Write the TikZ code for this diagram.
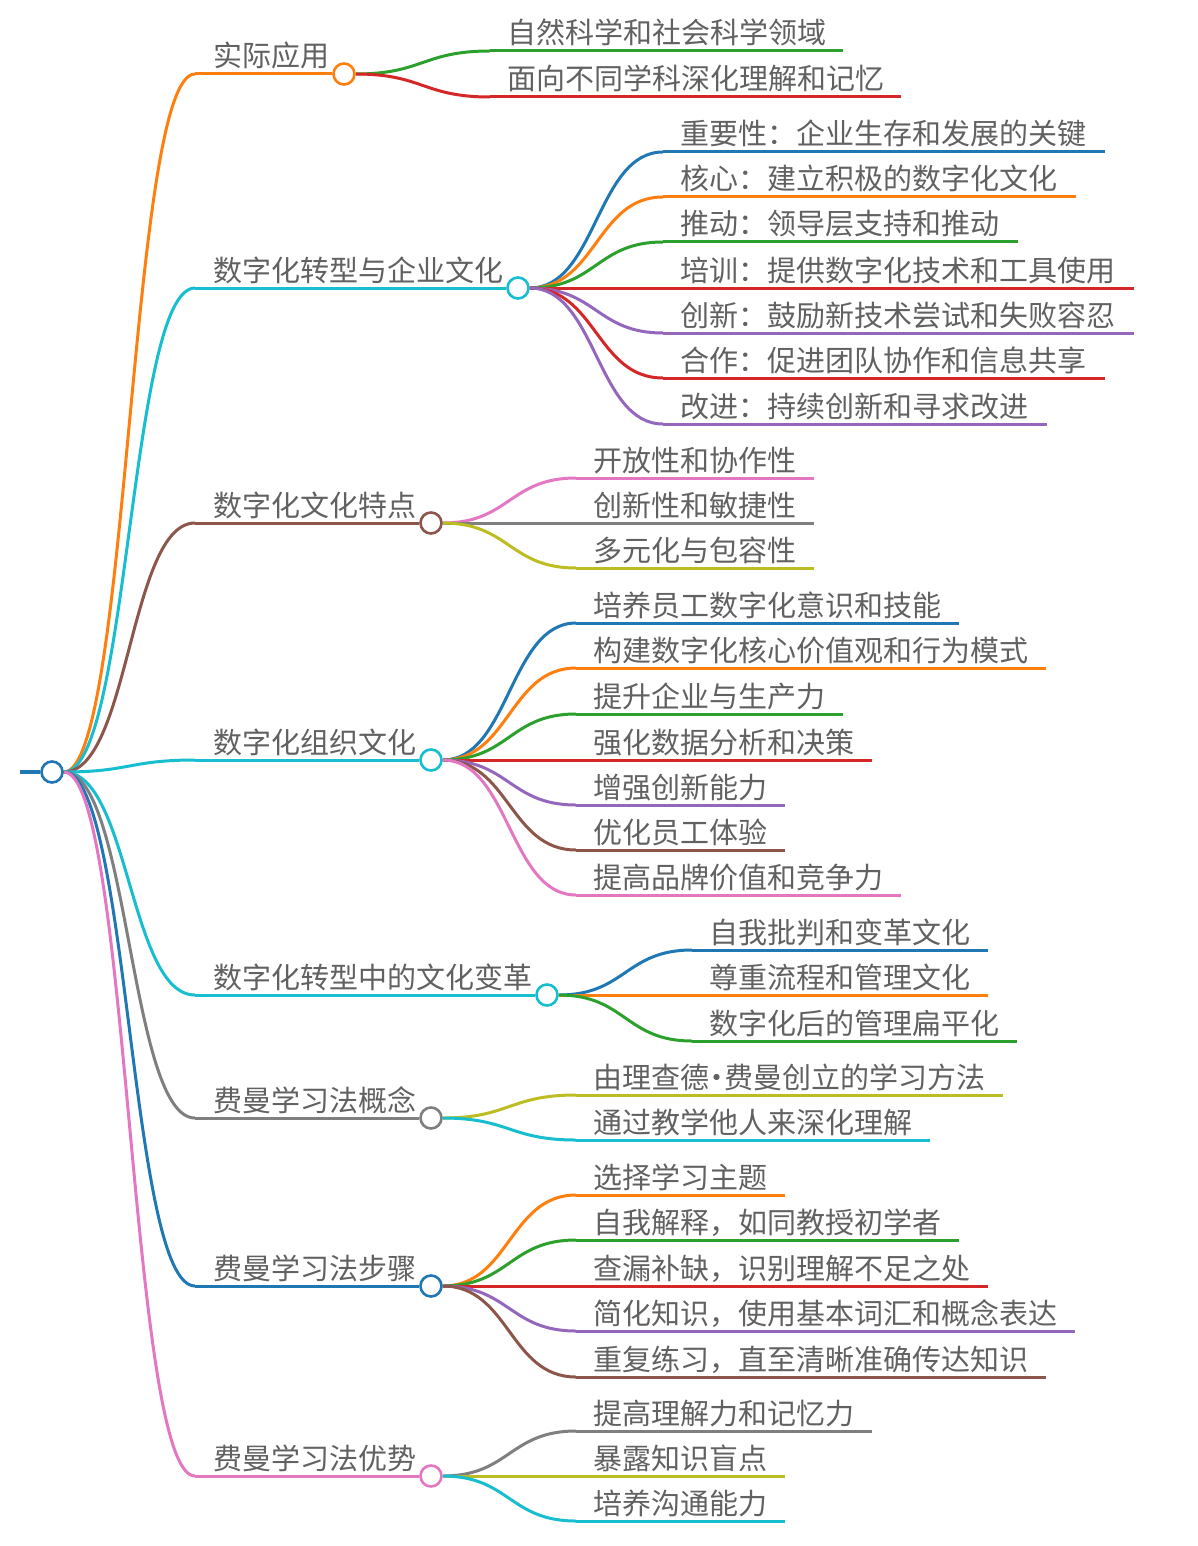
\documentclass[tikz,border=0pt]{standalone}
\usepackage{fontspec}
\setmainfont{Noto Sans CJK SC}
\usetikzlibrary{calc,backgrounds}
\definecolor{mmblue}{HTML}{1F77B4}
\definecolor{mmorange}{HTML}{FF7F0E}
\definecolor{mmgreen}{HTML}{2CA02C}
\definecolor{mmred}{HTML}{D62728}
\definecolor{mmpurple}{HTML}{9467BD}
\definecolor{mmbrown}{HTML}{8C564B}
\definecolor{mmpink}{HTML}{E377C2}
\definecolor{mmgray}{HTML}{7F7F7F}
\definecolor{mmolive}{HTML}{BCBD22}
\definecolor{mmcyan}{HTML}{17BECF}
\tikzset{
  mmline/.style={line width=3pt},
  mmdot/.style={circle, draw=#1, fill=white, line width=2.6pt, minimum size=21pt, inner sep=0pt},
  mmtext/.style={font=\fontsize{29}{29}\selectfont, text=black!62, inner sep=0pt, anchor=base west},
}
% link: colour, from, to
\newcommand\mmlink[3]{%
  \draw[mmline,#1] let \p1=(#2), \p2=(#3) in
    (#2) .. controls ({0.5*\x1+0.5*\x2},\y1) and ({0.5*\x1+0.5*\x2},\y2) .. (#3);}
% main branch: name, y, circle x, colour, text
\newcommand\mmmain[5]{%
  \coordinate (#1s) at (195,#2);
  \node[mmdot=#4] (#1) at (#3,#2) {};
  \node[mmtext] (#1t) at (213,#2-7) {#5};
  \begin{pgfonlayer}{background}
    \draw[mmline,#4] (#1s) -- (#1.west);
    \mmlink{#4}{root.east}{#1s}
  \end{pgfonlayer}}
% child: name, parent, start x, y, end x, colour, text
\newcommand\mmchild[7]{%
  \coordinate (#1s) at (#3,#4);
  \coordinate (#1e) at (#5,#4);
  \node[mmtext] (#1t) at (#3+17,#4-7) {#7};
  \begin{pgfonlayer}{background}
    \draw[mmline,#6] (#1s) -- (#1e);
    \mmlink{#6}{#2.east}{#1s}
  \end{pgfonlayer}}
\newcommand\mmdotsep{\hbox to 15pt{\hss·\hss}}
\begin{document}
\begin{tikzpicture}[x=1pt,y=-1pt]
\useasboundingbox (0,0) rectangle (1198,1546);
\begin{pgfonlayer}{background}
  \fill[white] (0,0) rectangle (1198,1546);
\end{pgfonlayer}
\node[mmdot=mmblue] (root) at (52,772) {};
\coordinate (stub) at (20,772);
\begin{pgfonlayer}{background}
  \draw[mmblue,line width=3.5pt] (stub) -- (root.west);
\end{pgfonlayer}

\mmmain{m1}{74}{344}{mmorange}{实际应用}
\mmmain{m2}{288}{518}{mmcyan}{数字化转型与企业文化}
\mmmain{m3}{523}{431}{mmbrown}{数字化文化特点}
\mmmain{m4}{760}{431}{mmcyan}{数字化组织文化}
\mmmain{m5}{995}{547}{mmcyan}{数字化转型中的文化变革}
\mmmain{m6}{1118}{431}{mmgray}{费曼学习法概念}
\mmmain{m7}{1286}{431}{mmblue}{费曼学习法步骤}
\mmmain{m8}{1476}{431}{mmpink}{费曼学习法优势}

\mmchild{a1}{m1}{490}{51}{843}{mmgreen}{自然科学和社会科学领域}
\mmchild{a2}{m1}{490}{97}{901}{mmred}{面向不同学科深化理解和记忆}

\mmchild{b1}{m2}{663}{152}{1105}{mmblue}{重要性：企业生存和发展的关键}
\mmchild{b2}{m2}{663}{197}{1076}{mmorange}{核心：建立积极的数字化文化}
\mmchild{b3}{m2}{663}{242}{1018}{mmgreen}{推动：领导层支持和推动}
\mmchild{b4}{m2}{663}{288}{1134}{mmred}{培训：提供数字化技术和工具使用}
\mmchild{b5}{m2}{663}{333}{1134}{mmpurple}{创新：鼓励新技术尝试和失败容忍}
\mmchild{b6}{m2}{663}{378}{1105}{mmred}{合作：促进团队协作和信息共享}
\mmchild{b7}{m2}{663}{424}{1047}{mmpurple}{改进：持续创新和寻求改进}

\mmchild{c1}{m3}{576}{478}{814}{mmpink}{开放性和协作性}
\mmchild{c2}{m3}{576}{523}{814}{mmgray}{创新性和敏捷性}
\mmchild{c3}{m3}{576}{568}{814}{mmolive}{多元化与包容性}

\mmchild{d1}{m4}{576}{623}{959}{mmblue}{培养员工数字化意识和技能}
\mmchild{d2}{m4}{576}{668}{1046}{mmorange}{构建数字化核心价值观和行为模式}
\mmchild{d3}{m4}{576}{714}{843}{mmgreen}{提升企业与生产力}
\mmchild{d4}{m4}{576}{760}{872}{mmred}{强化数据分析和决策}
\mmchild{d5}{m4}{576}{805}{785}{mmpurple}{增强创新能力}
\mmchild{d6}{m4}{576}{850}{785}{mmbrown}{优化员工体验}
\mmchild{d7}{m4}{576}{895}{901}{mmpink}{提高品牌价值和竞争力}

\mmchild{e1}{m5}{692}{950}{988}{mmblue}{自我批判和变革文化}
\mmchild{e2}{m5}{692}{995}{988}{mmorange}{尊重流程和管理文化}
\mmchild{e3}{m5}{692}{1041}{1017}{mmgreen}{数字化后的管理扁平化}

\mmchild{f1}{m6}{576}{1095}{1003}{mmolive}{由理查德\mmdotsep 费曼创立的学习方法}
\mmchild{f2}{m6}{576}{1140}{930}{mmcyan}{通过教学他人来深化理解}

\mmchild{g1}{m7}{576}{1195}{785}{mmorange}{选择学习主题}
\mmchild{g2}{m7}{576}{1240}{959}{mmgreen}{自我解释，如同教授初学者}
\mmchild{g3}{m7}{576}{1286}{988}{mmred}{查漏补缺，识别理解不足之处}
\mmchild{g4}{m7}{576}{1331}{1075}{mmpurple}{简化知识，使用基本词汇和概念表达}
\mmchild{g5}{m7}{576}{1377}{1046}{mmbrown}{重复练习，直至清晰准确传达知识}

\mmchild{h1}{m8}{576}{1431}{872}{mmgray}{提高理解力和记忆力}
\mmchild{h2}{m8}{576}{1476}{785}{mmolive}{暴露知识盲点}
\mmchild{h3}{m8}{576}{1521}{785}{mmcyan}{培养沟通能力}
\end{tikzpicture}
\end{document}
